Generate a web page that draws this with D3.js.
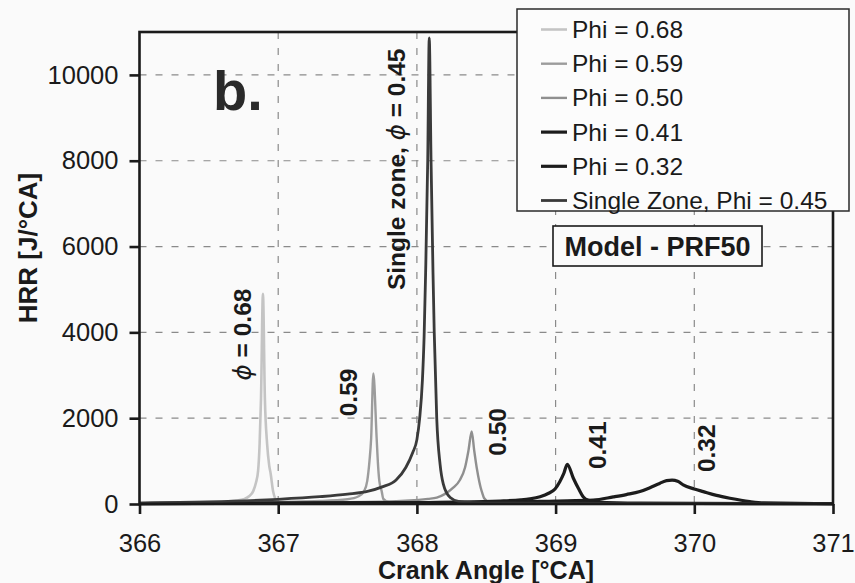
<!DOCTYPE html>
<html>
<head>
<meta charset="utf-8">
<script src="https://cdn.jsdelivr.net/npm/d3@7"></script>
<style>
  html, body { margin: 0; padding: 0; background: #fafafa; }
  svg { display: block; font-family: "Liberation Sans", Arial, sans-serif; }
</style>
</head>
<body>
<svg id="chart" width="855" height="583"></svg>
<script>
// ---------- data ----------
const xTicks = [366, 367, 368, 369, 370, 371];
const yTicks = [0, 2000, 4000, 6000, 8000, 10000];
const xGrid = [367, 368, 369, 370];
const yGrid = [2000, 4000, 6000, 8000, 10000];

const seriesNames = ["Phi = 0.68", "Phi = 0.59", "Phi = 0.50", "Phi = 0.41", "Phi = 0.32", "Single Zone, Phi = 0.45"];

const angle068 = [366.0, 366.4, 366.6, 366.7, 366.75, 366.79, 366.82, 366.84, 366.855, 366.866, 366.876, 366.89, 366.904, 366.92, 366.935, 366.946, 366.963, 366.978, 366.99, 367.05, 367.5, 371.0];
const hrr068   = [30, 40, 55, 80, 110, 180, 300, 500, 770, 1400, 2450, 4900, 2450, 1400, 900, 700, 300, 130, 60, 25, 10, 5];

const angle059 = [366.0, 366.8, 367.3, 367.5, 367.58, 367.619, 367.642, 367.658, 367.67, 367.686, 367.71, 367.72, 367.729, 367.746, 367.758, 367.8, 368.2, 371.0];
const hrr059   = [25, 40, 70, 110, 180, 300, 540, 1000, 1520, 3040, 1520, 900, 540, 300, 120, 40, 15, 5];

const angle050 = [366.0, 367.5, 367.95, 368.08, 368.143, 368.2, 368.262, 368.31, 368.347, 368.372, 368.395, 368.413, 368.431, 368.45, 368.46, 368.472, 368.484, 368.52, 369.0, 371.0];
const hrr050   = [20, 40, 80, 120, 150, 230, 380, 560, 850, 1250, 1690, 1250, 850, 520, 380, 250, 140, 50, 15, 5];

const angle041 = [366.0, 368.0, 368.6, 368.75, 368.815, 368.888, 368.95, 368.996, 369.03, 369.06, 369.084, 369.128, 369.165, 369.2, 369.236, 369.3, 369.6, 371.0];
const hrr041   = [10, 35, 70, 95, 120, 170, 250, 350, 520, 720, 925, 600, 360, 165, 85, 45, 20, 8];

const angle032 = [366.0, 368.5, 369.0, 369.272, 369.416, 369.51, 369.608, 369.68, 369.75, 369.8, 369.84, 369.88, 369.92, 370.0, 370.065, 370.16, 370.257, 370.4, 370.5, 371.0];
const hrr032   = [10, 40, 70, 90, 165, 220, 290, 380, 480, 545, 555, 530, 444, 350, 288, 200, 133, 55, 25, 10];

const angleSZ  = [366.0, 366.5, 367.0, 367.3, 367.5, 367.65, 367.75, 367.85, 367.92, 367.97, 368.0, 368.02, 368.04, 368.052, 368.063, 368.078, 368.089, 368.102, 368.116, 368.125, 368.143, 368.167, 368.19, 368.24, 368.3, 368.5, 371.0];
const hrrSZ    = [20, 50, 110, 170, 230, 300, 400, 560, 850, 1200, 1500, 2000, 2900, 3900, 5400, 8000, 10860, 8000, 5400, 4000, 2000, 930, 470, 150, 60, 20, 5];

const peakLabels = [
  { parts: [["ϕ", true], [" = 0.68", false]], x: 366.74, y: 3950 },
  { parts: [["0.59", false]], x: 367.505, y: 2600 },
  { parts: [["Single zone, ", false], ["ϕ", true], [" = 0.45", false]], x: 367.85, y: 7800 },
  { parts: [["0.50", false]], x: 368.58, y: 1680 },
  { parts: [["0.41", false]], x: 369.30, y: 1370 },
  { parts: [["0.32", false]], x: 370.085, y: 1300 }
];

// ---------- styles ----------
const seriesStyle = [
  { color: "#c4c4c4", width: 2.6 },
  { color: "#9c9c9c", width: 2.4 },
  { color: "#8f8f8f", width: 2.4 },
  { color: "#1c1c1c", width: 3.2 },
  { color: "#1c1c1c", width: 3.2 },
  { color: "#3a3a3a", width: 2.8 }
];

const seriesData = [
  [angle068, hrr068], [angle059, hrr059], [angle050, hrr050],
  [angle041, hrr041], [angle032, hrr032], [angleSZ, hrrSZ]
].map(([a, h]) => a.map((v, i) => [v, h[i]]));

// ---------- layout ----------
const svg = d3.select("#chart");
const L = 139.5, R = 833, T = 32, B = 504;
const x = d3.scaleLinear().domain([366, 371]).range([L, R]);
const y = d3.scaleLinear().domain([0, 11000]).range([B, T]);

svg.append("rect").attr("width", 855).attr("height", 583).attr("fill", "#fafafa");

// grid
const grid = svg.append("g").attr("stroke", "#8a8a8a").attr("stroke-width", 1.2).attr("stroke-dasharray", "7,9");
grid.selectAll("line.h").data(yGrid).join("line").attr("class", "h")
  .attr("x1", L).attr("x2", R).attr("y1", d => y(d)).attr("y2", d => y(d));
grid.selectAll("line.v").data(xGrid).join("line").attr("class", "v")
  .attr("x1", d => x(d)).attr("x2", d => x(d)).attr("y1", T).attr("y2", B);

// curves
const line = d3.line().x(d => x(d[0])).y(d => y(d[1])).curve(d3.curveMonotoneX);
svg.append("g").selectAll("path").data(seriesData).join("path")
  .attr("d", line).attr("fill", "none")
  .attr("stroke", (d, i) => seriesStyle[i].color)
  .attr("stroke-width", (d, i) => seriesStyle[i].width)
  .attr("stroke-linejoin", "round");

// frame
svg.append("rect").attr("x", L).attr("y", T).attr("width", R - L).attr("height", B - T)
  .attr("fill", "none").attr("stroke", "#1a1a1a").attr("stroke-width", 2.6);

// axes
const yAxis = svg.append("g").attr("transform", `translate(${L},0)`)
  .call(d3.axisLeft(y).tickValues(yTicks).tickSize(10).tickPadding(11).tickFormat(d3.format("d")));
const xAxis = svg.append("g").attr("transform", `translate(0,${B})`)
  .call(d3.axisBottom(x).tickValues(xTicks).tickSize(10).tickPadding(20).tickFormat(d3.format("d")));
[yAxis, xAxis].forEach(g => {
  g.select(".domain").remove();
  g.selectAll(".tick line").attr("stroke", "#1a1a1a").attr("stroke-width", 2.6);
  g.selectAll(".tick text").attr("fill", "#1a1a1a").attr("font-size", 25.5)
    .attr("font-family", "Liberation Sans, Arial, sans-serif");
});

// axis titles
svg.append("text").attr("x", 486).attr("y", 579).attr("text-anchor", "middle")
  .attr("font-size", 25).attr("font-weight", "bold").attr("fill", "#1a1a1a")
  .text("Crank Angle [°CA]");
svg.append("text").attr("transform", "translate(37,248) rotate(-90)").attr("text-anchor", "middle")
  .attr("font-size", 26).attr("font-weight", "bold").attr("fill", "#1a1a1a")
  .text("HRR [J/°CA]");

// panel letter
svg.append("text").attr("x", 213).attr("y", 110).attr("font-size", 56).attr("font-weight", "bold")
  .attr("fill", "#2a2a2a").text("b.");

// peak labels
peakLabels.forEach(p => {
  const t = svg.append("text")
    .attr("transform", `translate(${x(p.x)},${y(p.y)}) rotate(-90)`)
    .attr("text-anchor", "middle").attr("dominant-baseline", "central")
    .attr("font-size", 24.5).attr("font-weight", "bold").attr("fill", "#1a1a1a");
  p.parts.forEach(([s, it]) => {
    const ts = t.append("tspan").text(s);
    if (it) ts.attr("font-style", "italic").attr("font-family", "DejaVu Sans, sans-serif").attr("font-weight", "normal");
  });
});

// model box
svg.append("rect").attr("x", 553).attr("y", 226).attr("width", 209).attr("height", 40)
  .attr("fill", "#fafafa").attr("stroke", "#1a1a1a").attr("stroke-width", 1.6);
svg.append("text").attr("x", 657.5).attr("y", 247).attr("text-anchor", "middle")
  .attr("dominant-baseline", "central").attr("font-size", 27).attr("font-weight", "bold")
  .attr("fill", "#1a1a1a").text("Model - PRF50");

// legend
const lg = svg.append("g");
lg.append("rect").attr("x", 517).attr("y", 9).attr("width", 332).attr("height", 202)
  .attr("fill", "#fcfcfc").attr("stroke", "#2a2a2a").attr("stroke-width", 1.5);
const rowY = i => 29.5 + i * 34.2;
seriesNames.forEach((name, i) => {
  lg.append("line").attr("x1", 541).attr("x2", 567).attr("y1", rowY(i)).attr("y2", rowY(i))
    .attr("stroke", seriesStyle[i].color).attr("stroke-width", seriesStyle[i].width);
  lg.append("text").attr("x", 572).attr("y", rowY(i)).attr("dominant-baseline", "central")
    .attr("font-size", 24.5).attr("fill", "#1a1a1a").text(name);
});
</script>
</body>
</html>
